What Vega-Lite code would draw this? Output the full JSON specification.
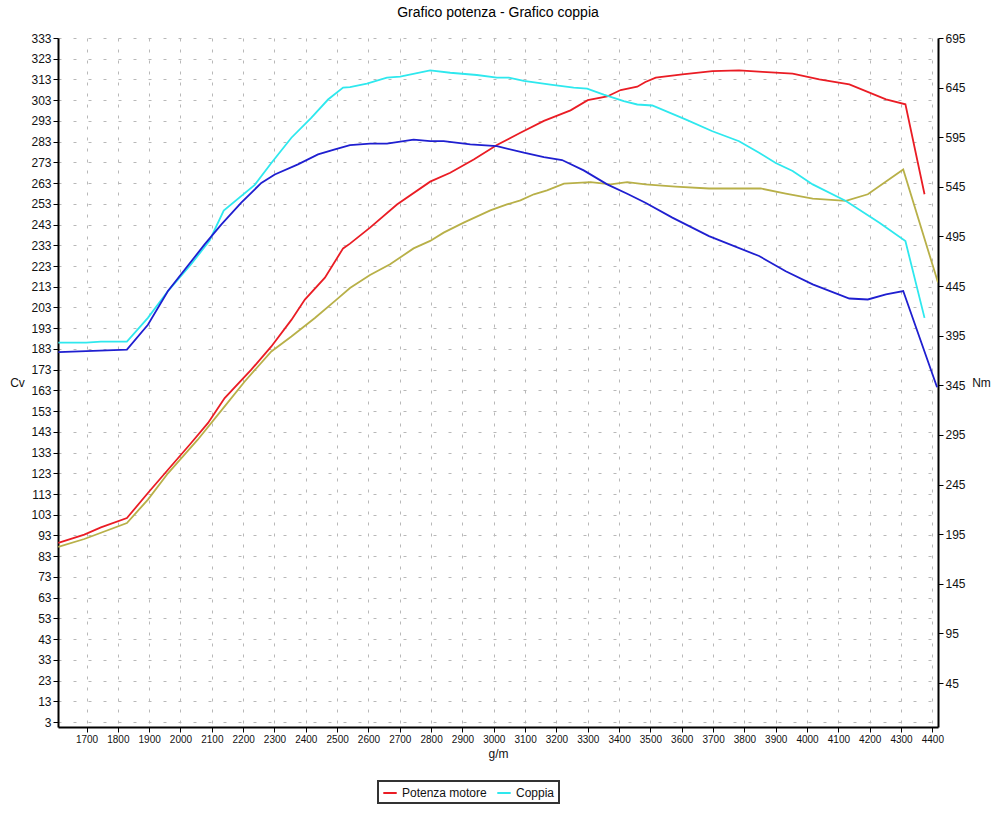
{
  "$schema": "https://vega.github.io/schema/vega-lite/v6.json",
  "autosize": {"type": "none"},
  "padding": {"left": 58, "top": 38, "right": 62, "bottom": 86},
  "width": 880,
  "height": 689,
  "background": "#ffffff",
  "title": {
    "text": "Grafico potenza - Grafico coppia",
    "font": "Liberation Sans",
    "fontSize": 14,
    "fontWeight": "normal",
    "color": "#000000",
    "anchor": "middle",
    "offset": 12
  },
  "datasets": {
    "potenza": [
      {"serie": "Potenza motore", "rpm": 1610, "cv": 89.4},
      {"serie": "Potenza motore", "rpm": 1693, "cv": 93.4},
      {"serie": "Potenza motore", "rpm": 1746, "cv": 96.9},
      {"serie": "Potenza motore", "rpm": 1829, "cv": 101.4},
      {"serie": "Potenza motore", "rpm": 1896, "cv": 113.5},
      {"serie": "Potenza motore", "rpm": 1960, "cv": 124.7},
      {"serie": "Potenza motore", "rpm": 2034, "cv": 137.6},
      {"serie": "Potenza motore", "rpm": 2088, "cv": 147.3},
      {"serie": "Potenza motore", "rpm": 2141, "cv": 159.3},
      {"serie": "Potenza motore", "rpm": 2226, "cv": 173},
      {"serie": "Potenza motore", "rpm": 2290, "cv": 184.2},
      {"serie": "Potenza motore", "rpm": 2354, "cv": 197},
      {"serie": "Potenza motore", "rpm": 2397, "cv": 206.8},
      {"serie": "Potenza motore", "rpm": 2461, "cv": 217.4},
      {"serie": "Potenza motore", "rpm": 2519, "cv": 231.5},
      {"serie": "Potenza motore", "rpm": 2541, "cv": 233.8},
      {"serie": "Potenza motore", "rpm": 2605, "cv": 241.5},
      {"serie": "Potenza motore", "rpm": 2691, "cv": 252.7},
      {"serie": "Potenza motore", "rpm": 2797, "cv": 263.7},
      {"serie": "Potenza motore", "rpm": 2861, "cv": 268},
      {"serie": "Potenza motore", "rpm": 2936, "cv": 274.4},
      {"serie": "Potenza motore", "rpm": 3010, "cv": 281.4},
      {"serie": "Potenza motore", "rpm": 3085, "cv": 287.3},
      {"serie": "Potenza motore", "rpm": 3160, "cv": 293},
      {"serie": "Potenza motore", "rpm": 3245, "cv": 298.1},
      {"serie": "Potenza motore", "rpm": 3300, "cv": 303},
      {"serie": "Potenza motore", "rpm": 3362, "cv": 304.8},
      {"serie": "Potenza motore", "rpm": 3405, "cv": 307.9},
      {"serie": "Potenza motore", "rpm": 3458, "cv": 309.5},
      {"serie": "Potenza motore", "rpm": 3484, "cv": 311.8},
      {"serie": "Potenza motore", "rpm": 3517, "cv": 313.9},
      {"serie": "Potenza motore", "rpm": 3602, "cv": 315.4},
      {"serie": "Potenza motore", "rpm": 3698, "cv": 317},
      {"serie": "Potenza motore", "rpm": 3783, "cv": 317.4},
      {"serie": "Potenza motore", "rpm": 3858, "cv": 316.7},
      {"serie": "Potenza motore", "rpm": 3954, "cv": 315.8},
      {"serie": "Potenza motore", "rpm": 4039, "cv": 313},
      {"serie": "Potenza motore", "rpm": 4135, "cv": 310.6},
      {"serie": "Potenza motore", "rpm": 4252, "cv": 303.4},
      {"serie": "Potenza motore", "rpm": 4314, "cv": 301},
      {"serie": "Potenza motore", "rpm": 4375, "cv": 257.6},
      {"serie": "Potenza originale", "rpm": 1610, "cv": 87.5},
      {"serie": "Potenza originale", "rpm": 1693, "cv": 91.3},
      {"serie": "Potenza originale", "rpm": 1829, "cv": 99},
      {"serie": "Potenza originale", "rpm": 1896, "cv": 110.3},
      {"serie": "Potenza originale", "rpm": 1960, "cv": 123},
      {"serie": "Potenza originale", "rpm": 2055, "cv": 139.2},
      {"serie": "Potenza originale", "rpm": 2141, "cv": 155.3},
      {"serie": "Potenza originale", "rpm": 2205, "cv": 167.3},
      {"serie": "Potenza originale", "rpm": 2290, "cv": 181.8},
      {"serie": "Potenza originale", "rpm": 2354, "cv": 189},
      {"serie": "Potenza originale", "rpm": 2429, "cv": 197.9},
      {"serie": "Potenza originale", "rpm": 2498, "cv": 206.8},
      {"serie": "Potenza originale", "rpm": 2541, "cv": 212.4},
      {"serie": "Potenza originale", "rpm": 2605, "cv": 218.7},
      {"serie": "Potenza originale", "rpm": 2669, "cv": 223.8},
      {"serie": "Potenza originale", "rpm": 2744, "cv": 231.5},
      {"serie": "Potenza originale", "rpm": 2797, "cv": 235.1},
      {"serie": "Potenza originale", "rpm": 2840, "cv": 239.1},
      {"serie": "Potenza originale", "rpm": 2904, "cv": 243.9},
      {"serie": "Potenza originale", "rpm": 2989, "cv": 249.8},
      {"serie": "Potenza originale", "rpm": 3042, "cv": 252.7},
      {"serie": "Potenza originale", "rpm": 3085, "cv": 254.7},
      {"serie": "Potenza originale", "rpm": 3128, "cv": 257.6},
      {"serie": "Potenza originale", "rpm": 3170, "cv": 259.5},
      {"serie": "Potenza originale", "rpm": 3224, "cv": 262.7},
      {"serie": "Potenza originale", "rpm": 3309, "cv": 263.5},
      {"serie": "Potenza originale", "rpm": 3373, "cv": 262.4},
      {"serie": "Potenza originale", "rpm": 3426, "cv": 263.5},
      {"serie": "Potenza originale", "rpm": 3484, "cv": 262.4},
      {"serie": "Potenza originale", "rpm": 3580, "cv": 261.3},
      {"serie": "Potenza originale", "rpm": 3687, "cv": 260.4},
      {"serie": "Potenza originale", "rpm": 3852, "cv": 260.4},
      {"serie": "Potenza originale", "rpm": 3932, "cv": 257.9},
      {"serie": "Potenza originale", "rpm": 4018, "cv": 255.5},
      {"serie": "Potenza originale", "rpm": 4124, "cv": 254.4},
      {"serie": "Potenza originale", "rpm": 4194, "cv": 257.6},
      {"serie": "Potenza originale", "rpm": 4307, "cv": 269.6},
      {"serie": "Potenza originale", "rpm": 4418, "cv": 215}
    ],
    "coppia": [
      {"serie": "Coppia", "rpm": 1610, "nm": 388},
      {"serie": "Coppia", "rpm": 1699, "nm": 388},
      {"serie": "Coppia", "rpm": 1746, "nm": 389},
      {"serie": "Coppia", "rpm": 1829, "nm": 389},
      {"serie": "Coppia", "rpm": 1896, "nm": 413},
      {"serie": "Coppia", "rpm": 1960, "nm": 440},
      {"serie": "Coppia", "rpm": 2034, "nm": 467},
      {"serie": "Coppia", "rpm": 2093, "nm": 491},
      {"serie": "Coppia", "rpm": 2138, "nm": 521},
      {"serie": "Coppia", "rpm": 2237, "nm": 547},
      {"serie": "Coppia", "rpm": 2290, "nm": 569},
      {"serie": "Coppia", "rpm": 2354, "nm": 594.5},
      {"serie": "Coppia", "rpm": 2418, "nm": 614.7},
      {"serie": "Coppia", "rpm": 2471, "nm": 633},
      {"serie": "Coppia", "rpm": 2519, "nm": 645},
      {"serie": "Coppia", "rpm": 2541, "nm": 645.6},
      {"serie": "Coppia", "rpm": 2595, "nm": 649},
      {"serie": "Coppia", "rpm": 2659, "nm": 655},
      {"serie": "Coppia", "rpm": 2701, "nm": 656},
      {"serie": "Coppia", "rpm": 2797, "nm": 662.4},
      {"serie": "Coppia", "rpm": 2861, "nm": 660},
      {"serie": "Coppia", "rpm": 2946, "nm": 657.7},
      {"serie": "Coppia", "rpm": 3010, "nm": 655},
      {"serie": "Coppia", "rpm": 3048, "nm": 655},
      {"serie": "Coppia", "rpm": 3096, "nm": 651.7},
      {"serie": "Coppia", "rpm": 3181, "nm": 648},
      {"serie": "Coppia", "rpm": 3255, "nm": 645},
      {"serie": "Coppia", "rpm": 3298, "nm": 644},
      {"serie": "Coppia", "rpm": 3351, "nm": 638},
      {"serie": "Coppia", "rpm": 3415, "nm": 631.5},
      {"serie": "Coppia", "rpm": 3458, "nm": 628},
      {"serie": "Coppia", "rpm": 3506, "nm": 627},
      {"serie": "Coppia", "rpm": 3612, "nm": 613},
      {"serie": "Coppia", "rpm": 3698, "nm": 601},
      {"serie": "Coppia", "rpm": 3783, "nm": 591},
      {"serie": "Coppia", "rpm": 3847, "nm": 579.4},
      {"serie": "Coppia", "rpm": 3900, "nm": 569},
      {"serie": "Coppia", "rpm": 3954, "nm": 561},
      {"serie": "Coppia", "rpm": 4018, "nm": 547.5},
      {"serie": "Coppia", "rpm": 4124, "nm": 530.7},
      {"serie": "Coppia", "rpm": 4231, "nm": 508.8},
      {"serie": "Coppia", "rpm": 4314, "nm": 490.4},
      {"serie": "Coppia", "rpm": 4375, "nm": 413},
      {"serie": "Coppia originale", "rpm": 1610, "nm": 378.5},
      {"serie": "Coppia originale", "rpm": 1699, "nm": 379.5},
      {"serie": "Coppia originale", "rpm": 1829, "nm": 381},
      {"serie": "Coppia originale", "rpm": 1896, "nm": 406},
      {"serie": "Coppia originale", "rpm": 1960, "nm": 440},
      {"serie": "Coppia originale", "rpm": 2077, "nm": 487},
      {"serie": "Coppia originale", "rpm": 2130, "nm": 507},
      {"serie": "Coppia originale", "rpm": 2194, "nm": 529},
      {"serie": "Coppia originale", "rpm": 2258, "nm": 549},
      {"serie": "Coppia originale", "rpm": 2301, "nm": 557.5},
      {"serie": "Coppia originale", "rpm": 2375, "nm": 567.6},
      {"serie": "Coppia originale", "rpm": 2439, "nm": 577.7},
      {"serie": "Coppia originale", "rpm": 2493, "nm": 582.7},
      {"serie": "Coppia originale", "rpm": 2541, "nm": 587},
      {"serie": "Coppia originale", "rpm": 2605, "nm": 588.5},
      {"serie": "Coppia originale", "rpm": 2659, "nm": 588.5},
      {"serie": "Coppia originale", "rpm": 2744, "nm": 592.5},
      {"serie": "Coppia originale", "rpm": 2797, "nm": 591},
      {"serie": "Coppia originale", "rpm": 2840, "nm": 591},
      {"serie": "Coppia originale", "rpm": 2925, "nm": 587.8},
      {"serie": "Coppia originale", "rpm": 3010, "nm": 586},
      {"serie": "Coppia originale", "rpm": 3096, "nm": 579.4},
      {"serie": "Coppia originale", "rpm": 3160, "nm": 575},
      {"serie": "Coppia originale", "rpm": 3218, "nm": 572},
      {"serie": "Coppia originale", "rpm": 3287, "nm": 561.6},
      {"serie": "Coppia originale", "rpm": 3362, "nm": 547.5},
      {"serie": "Coppia originale", "rpm": 3426, "nm": 538},
      {"serie": "Coppia originale", "rpm": 3484, "nm": 529},
      {"serie": "Coppia originale", "rpm": 3570, "nm": 514},
      {"serie": "Coppia originale", "rpm": 3687, "nm": 495.4},
      {"serie": "Coppia originale", "rpm": 3847, "nm": 475.3},
      {"serie": "Coppia originale", "rpm": 3932, "nm": 460},
      {"serie": "Coppia originale", "rpm": 4018, "nm": 446.7},
      {"serie": "Coppia originale", "rpm": 4135, "nm": 432.5},
      {"serie": "Coppia originale", "rpm": 4194, "nm": 431.5},
      {"serie": "Coppia originale", "rpm": 4252, "nm": 436.6},
      {"serie": "Coppia originale", "rpm": 4307, "nm": 440},
      {"serie": "Coppia originale", "rpm": 4415, "nm": 343}
    ]
  },
  "encoding": {
    "x": {
      "field": "rpm",
      "type": "quantitative",
      "title": "g/m",
      "scale": {"domain": [1609, 4418], "nice": false, "zero": false},
      "axis": {
        "values": [1700, 1800, 1900, 2000, 2100, 2200, 2300, 2400, 2500, 2600, 2700, 2800, 2900, 3000, 3100, 3200, 3300, 3400, 3500, 3600, 3700, 3800, 3900, 4000, 4100, 4200, 4300, 4400],
        "format": "d",
        "labelFontSize": 10,
        "labelOverlap": false,
        "gridDash": [3, 8],
        "titlePadding": 4
      }
    },
    "color": {
      "field": "serie",
      "type": "nominal",
      "scale": {
        "domain": ["Potenza motore", "Coppia", "Potenza originale", "Coppia originale"],
        "range": ["#ea1c24", "#2ee8ee", "#b8b048", "#1f1fd0"]
      },
      "legend": {"values": ["Potenza motore", "Coppia"], "title": null}
    }
  },
  "layer": [
    {
      "data": {"name": "potenza"},
      "mark": {"type": "line", "strokeWidth": 1.8, "clip": true},
      "encoding": {
        "y": {
          "field": "cv",
          "type": "quantitative",
          "title": "Cv",
          "scale": {"domain": [0.6, 333], "nice": false, "zero": false},
          "axis": {
            "orient": "left",
            "values": [3, 13, 23, 33, 43, 53, 63, 73, 83, 93, 103, 113, 123, 133, 143, 153, 163, 173, 183, 193, 203, 213, 223, 233, 243, 253, 263, 273, 283, 293, 303, 313, 323, 333],
            "labelOverlap": false,
            "gridDash": [3, 12],
            "titleAngle": 0,
            "titleAlign": "center",
            "titleBaseline": "middle",
            "titleX": -41,
            "titleY": 344
          }
        }
      }
    },
    {
      "data": {"name": "coppia"},
      "mark": {"type": "line", "strokeWidth": 1.8, "clip": true},
      "encoding": {
        "y": {
          "field": "nm",
          "type": "quantitative",
          "title": "Nm",
          "scale": {"domain": [0.7, 695], "nice": false, "zero": false},
          "axis": {
            "orient": "right",
            "grid": false,
            "values": [45, 95, 145, 195, 245, 295, 345, 395, 445, 495, 545, 595, 645, 695],
            "labelOverlap": false,
            "titleAngle": 0,
            "titleAlign": "center",
            "titleBaseline": "middle",
            "titleX": 43,
            "titleY": 344
          }
        }
      }
    }
  ],
  "resolve": {"scale": {"y": "independent"}, "axis": {"y": "independent"}},
  "config": {
    "view": {"stroke": null},
    "font": "Liberation Sans",
    "axis": {
      "domainColor": "#000000",
      "domainWidth": 2,
      "tickColor": "#000000",
      "tickSize": 5,
      "labelColor": "#111111",
      "labelFont": "Liberation Sans",
      "labelFontSize": 12,
      "titleFont": "Liberation Sans",
      "titleFontSize": 12,
      "titleFontWeight": "normal",
      "titleColor": "#111111",
      "gridColor": "#b8b8b8",
      "gridWidth": 1
    },
    "legend": {
      "orient": "none",
      "legendX": 320,
      "legendY": 743,
      "direction": "horizontal",
      "strokeColor": "#333333",
      "strokeWidth": 2,
      "padding": 4,
      "symbolType": "stroke",
      "symbolStrokeWidth": 2,
      "symbolSize": 180,
      "labelFont": "Liberation Sans",
      "labelFontSize": 12,
      "labelColor": "#111111",
      "columnPadding": 6
    }
  }
}
